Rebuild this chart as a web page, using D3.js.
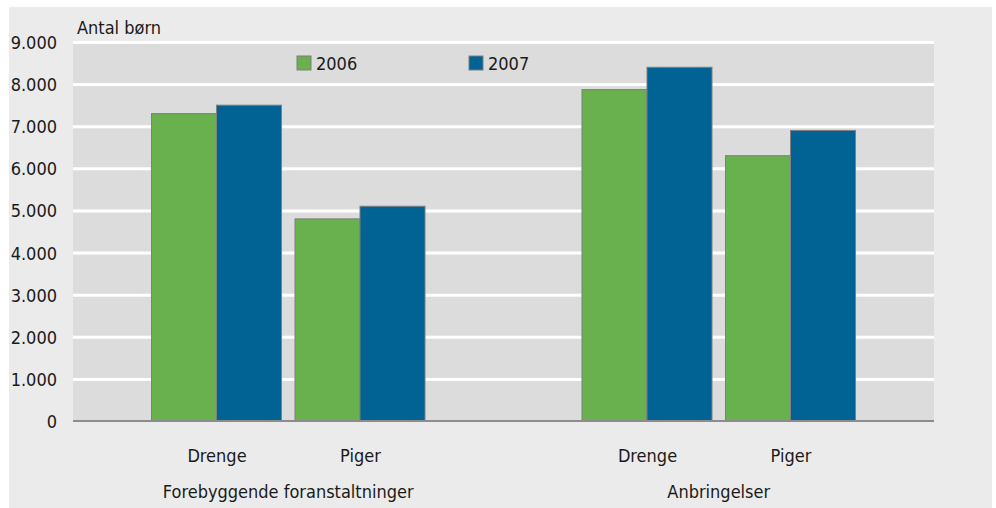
<!DOCTYPE html>
<html><head><meta charset="utf-8">
<script src="https://cdn.jsdelivr.net/npm/d3@7/dist/d3.min.js"></script>
<style>html,body{margin:0;padding:0;background:#fff;}svg{display:block;font-family:"DejaVu Sans Condensed","Liberation Sans",Arial,sans-serif;}</style>
</head><body>
<svg id="chart" width="996" height="508"></svg>
<script>
const groups = ["Forebyggende foranstaltninger", "Anbringelser"];
const subCategories = ["Drenge", "Piger"];
const categoryKeys = ["F-Drenge", "F-Piger", "gap", "A-Drenge", "A-Piger"];
const categoryLabels = ["Drenge", "Piger", "", "Drenge", "Piger"];
const seriesNames = ["2006", "2007"];
const values2006 = [7300, 4800, null, 7870, 6300];
const values2007 = [7500, 5100, null, 8400, 6900];
const yTicks = [0, 1000, 2000, 3000, 4000, 5000, 6000, 7000, 8000, 9000];
const yTickLabels = ["0", "1.000", "2.000", "3.000", "4.000", "5.000", "6.000", "7.000", "8.000", "9.000"];
const colors = ["#69b04f", "#006394"];

(function(){
const svg = d3.select("#chart");
const pL = 73, pR = 934, pT = 42, pB = 421;
const fs = 18, txt = "#1a1a1a";

svg.append("rect").attr("x", 9).attr("y", 7).attr("width", 983).attr("height", 501).attr("fill", "#ebebeb");
svg.append("rect").attr("x", pL).attr("y", pT).attr("width", pR - pL).attr("height", pB - pT).attr("fill", "#dcdcdc");

const x = d3.scalePoint().domain(categoryKeys).range([pL, pR]).padding(1);
const y = d3.scaleLinear().domain([0, 9000]).range([pB, pT]);
const barW = 65;

const yAxis = d3.axisLeft(y).tickValues(yTicks).tickSize(-(pR - pL)).tickFormat((d, i) => yTickLabels[i]);
const gy = svg.append("g").attr("transform", `translate(${pL},0)`).call(yAxis);
gy.attr("font-family", null);
gy.select(".domain").remove();
gy.selectAll(".tick line").attr("stroke", "#ffffff").attr("stroke-width", 3).filter(d => d === 0).remove();
gy.selectAll(".tick text").attr("x", -16).attr("dy", "0.36em").attr("font-size", fs).attr("fill", txt);

const seriesData = [values2006, values2007];
seriesData.forEach((vals, s) => {
  svg.append("g").selectAll("rect").data(categoryKeys.map((k, i) => ({k, v: vals[i]})).filter(d => d.v != null))
    .join("rect")
    .attr("x", d => x(d.k) - barW + s * barW)
    .attr("y", d => y(d.v))
    .attr("width", barW)
    .attr("height", d => y(0) - y(d.v))
    .attr("fill", colors[s])
    .attr("stroke", "#7f7f7f")
    .attr("stroke-width", 1);
});

svg.append("line").attr("x1", pL).attr("x2", pR).attr("y1", y(0)).attr("y2", y(0)).attr("stroke", "#8c8c8c").attr("stroke-width", 2);

const xAxis = d3.axisBottom(x).tickSize(0).tickFormat((d, i) => categoryLabels[i]);
const gx = svg.append("g").attr("transform", `translate(0,${pB})`).call(xAxis);
gx.attr("font-family", null);
gx.select(".domain").remove();
gx.selectAll(".tick text").attr("y", 41).attr("dy", 0).attr("font-size", fs).attr("fill", txt);

const groupCenters = [(x("F-Drenge") + x("F-Piger")) / 2, (x("A-Drenge") + x("A-Piger")) / 2];
svg.append("g").selectAll("text").data(groups).join("text")
  .attr("x", (d, i) => groupCenters[i]).attr("y", 498).attr("text-anchor", "middle")
  .attr("font-size", fs).attr("fill", txt).text(d => d);

svg.append("text").attr("x", 77).attr("y", 34).attr("font-size", fs).attr("fill", txt).text("Antal børn");

const legendX = [297, 469];
seriesNames.forEach((n, i) => {
  svg.append("rect").attr("x", legendX[i]).attr("y", 56).attr("width", 14).attr("height", 14)
    .attr("fill", colors[i]).attr("stroke", "#7f7f7f").attr("stroke-width", 1);
  svg.append("text").attr("x", legendX[i] + 19).attr("y", 70).attr("font-size", fs).attr("fill", txt).text(n);
});
})();
</script>
</body></html>
